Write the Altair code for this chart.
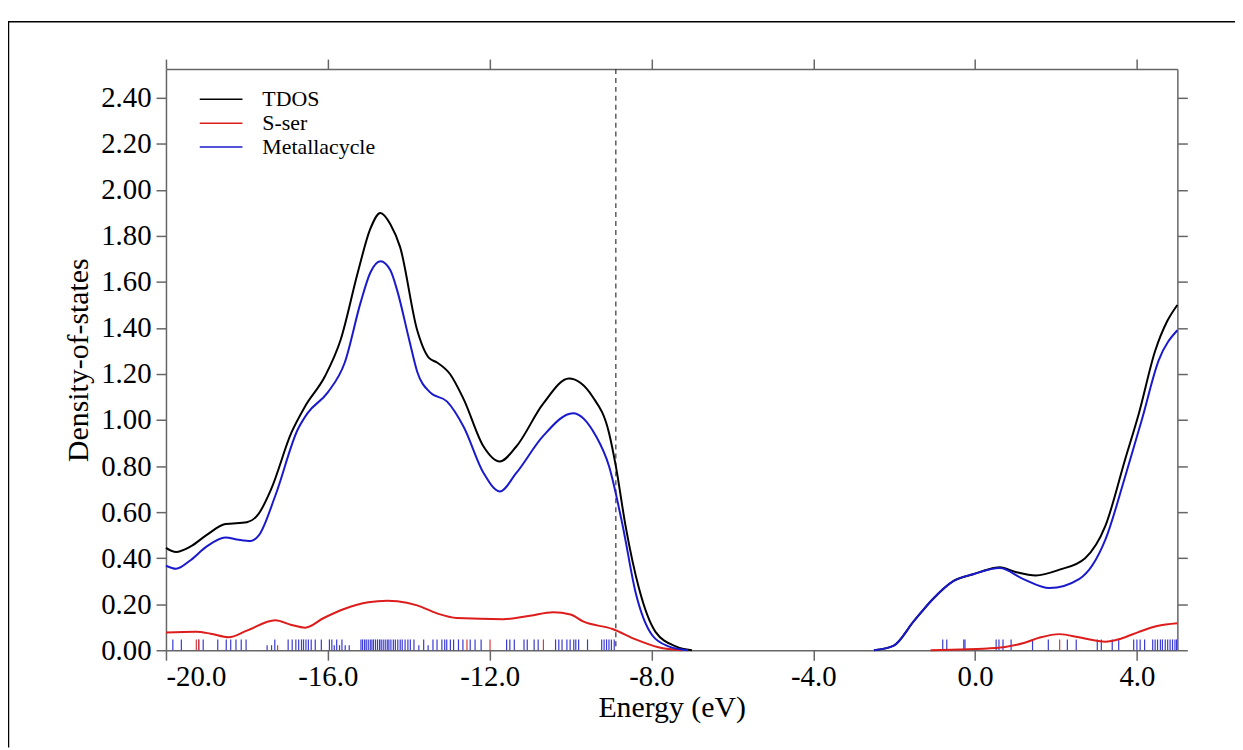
import altair as alt
import pandas as pd

# ---------------- data ----------------
series_names = ["TDOS", "S-ser", "Metallacycle"]
series_colors = ["#000000", "#dd1c1c", "#1a1acc"]

tdos_lo_x = [-20.0, -19.75, -19.4, -19.0, -18.53, -18.0, -17.72, -17.4, -16.9, -16.56, -16.07, -15.68,
             -15.26, -14.95, -14.70, -14.45, -14.21, -13.79, -13.5, -13.3, -12.98, -12.64, -12.15, -11.75,
             -11.34, -10.68, -10.04, -9.45, -9.05, -8.88, -8.64, -8.31, -7.9, -7.4, -7.0]
tdos_lo_y = [0.445, 0.427, 0.45, 0.50, 0.548, 0.556, 0.59, 0.70, 0.945, 1.06, 1.19, 1.35,
             1.64, 1.83, 1.90, 1.85, 1.75, 1.39, 1.27, 1.25, 1.20, 1.09, 0.885, 0.82,
             0.885, 1.07, 1.18, 1.10, 0.945, 0.80, 0.54, 0.27, 0.08, 0.017, 0.0]
tdos_hi_x = [-2.5, -2.01, -1.52, -1.03, -0.54, -0.05, 0.3, 0.61, 1.0, 1.5, 2.09, 2.72, 3.22, 3.71,
             4.05, 4.45, 4.75, 5.0]
tdos_hi_y = [0.0, 0.02, 0.125, 0.225, 0.30, 0.33, 0.35, 0.36, 0.34, 0.325, 0.35, 0.40, 0.54, 0.83,
             1.03, 1.30, 1.43, 1.50]

sser_lo_x = [-20.0, -19.26, -18.9, -18.45, -18.0, -17.3, -16.9, -16.56, -16.1, -15.58, -15.0, -14.53,
             -14.28, -13.79, -13.3, -12.81, -11.66, -11.0, -10.43, -10.0, -9.69, -8.96, -8.39, -7.83, -7.24]
sser_lo_y = [0.077, 0.08, 0.072, 0.056, 0.085, 0.13, 0.11, 0.098, 0.14, 0.18, 0.208, 0.215,
             0.213, 0.195, 0.16, 0.14, 0.135, 0.15, 0.165, 0.155, 0.125, 0.092, 0.047, 0.013, 0.0]
sser_hi_x = [-1.1, 0.52, 1.18, 1.6, 2.09, 2.6, 3.22, 3.6, 4.05, 4.5, 5.0]
sser_hi_y = [0.0, 0.01, 0.03, 0.055, 0.07, 0.055, 0.037, 0.05, 0.08, 0.105, 0.117]

metal_lo_x = [-20.0, -19.75, -19.4, -19.0, -18.53, -18.2, -17.9, -17.7, -17.3, -16.74, -16.5, -16.0,
              -15.58, -15.19, -14.95, -14.70, -14.45, -14.28, -13.99, -13.79, -13.47, -13.05, -12.64,
              -12.15, -11.75, -11.34, -10.68, -9.94, -9.37, -9.05, -8.71, -8.39, -7.98, -7.58, -7.1]
metal_lo_y = [0.367, 0.354, 0.39, 0.45, 0.49, 0.48, 0.475, 0.50, 0.67, 0.96, 1.03, 1.12,
              1.25, 1.51, 1.64, 1.69, 1.65, 1.56, 1.35, 1.21, 1.12, 1.08, 0.97,
              0.77, 0.69, 0.77, 0.93, 1.03, 0.93, 0.80, 0.54, 0.25, 0.065, 0.017, 0.0]
metal_hi_x = [-2.5, -2.01, -1.52, -1.03, -0.54, -0.05, 0.61, 1.18, 1.84, 2.58, 3.22, 3.71, 4.12, 4.54, 5.0]
metal_hi_y = [0.0, 0.02, 0.125, 0.225, 0.30, 0.33, 0.357, 0.31, 0.27, 0.31, 0.48, 0.755, 1.00, 1.26, 1.39]

# eigenvalue sticks
blue_sticks = [-19.83, -19.62, -19.19, -19.08, -18.72, -18.51, -18.40, -18.27, -18.14, -18.02, -17.31,
               -16.98, -16.88, -16.79, -16.72, -16.65, -16.60, -16.54, -16.48, -16.41, -16.31, -16.16,
               -15.96, -15.90, -15.78, -15.65,
               -15.18, -15.14, -15.09, -15.05, -15.00, -14.95, -14.91, -14.87, -14.82, -14.77, -14.72,
               -14.68, -14.63, -14.58, -14.53, -14.49, -14.44, -14.38, -14.33, -14.27, -14.21, -14.16,
               -14.09, -14.02, -13.96,
               -13.87, -13.63, -13.40, -13.30, -13.18, -13.11, -13.06, -12.97, -12.89, -12.77, -12.66,
               -12.48, -12.36, -12.21, -11.58, -11.50, -11.39, -11.15, -11.07, -10.90, -10.80, -10.37,
               -10.29, -10.21, -10.09, -10.01, -9.92, -9.87, -9.80, -9.58, -9.23, -9.17, -9.11, -9.05,
               -8.99, -8.92,
               -0.80, -0.70, -0.28, -0.25, 0.52, 0.59, 0.69, 0.89, 1.42, 1.81, 2.28, 2.50, 3.02, 3.12,
               3.39, 3.55, 3.92, 4.00, 4.08, 4.19, 4.39, 4.45, 4.51, 4.58, 4.63, 4.70, 4.76, 4.82, 4.88,
               4.94, 4.98]
blue_short_sticks = [-17.50, -17.39, -15.84, -15.71, -15.57, -15.47, -13.75, -13.52]
red_sticks = [-19.25, -19.19, -12.56, -11.99, -10.67, 2.09]
red_short_sticks = [-17.24]
stick_height = 0.047
short_height = 0.022

homo_level = [-8.88]

x_ticks = [-20, -16, -12, -8, -4, 0, 4]
y_ticks = [0.0, 0.2, 0.4, 0.6, 0.8, 1.0, 1.2, 1.4, 1.6, 1.8, 2.0, 2.2, 2.4]

# ---------------- tables ----------------
def seg(name, part, xs, ys):
    return pd.DataFrame({"energy": xs, "dos": ys, "series": name, "segment": part})

tdos_df = pd.concat([seg("TDOS", "lo", tdos_lo_x, tdos_lo_y), seg("TDOS", "hi", tdos_hi_x, tdos_hi_y)])
sser_df = pd.concat([seg("S-ser", "lo", sser_lo_x, sser_lo_y), seg("S-ser", "hi", sser_hi_x, sser_hi_y)])
metal_df = pd.concat([seg("Metallacycle", "lo", metal_lo_x, metal_lo_y),
                      seg("Metallacycle", "hi", metal_hi_x, metal_hi_y)])

blue_df = pd.concat([pd.DataFrame({"energy": blue_sticks, "top": stick_height}),
                     pd.DataFrame({"energy": blue_short_sticks, "top": short_height})])
blue_df["base"] = 0.0
red_df = pd.concat([pd.DataFrame({"energy": red_sticks, "top": stick_height}),
                    pd.DataFrame({"energy": red_short_sticks, "top": short_height})])
red_df["base"] = 0.0
homo_df = pd.DataFrame({"energy": homo_level})

FONT = "Liberation Serif"
AXIS_GRAY = "#666666"

x_scale = alt.Scale(domain=[-20, 5], nice=False, zero=False)
y_scale = alt.Scale(domain=[0, 2.525], nice=False, zero=False)
color_scale = alt.Scale(domain=series_names, range=series_colors)

x_main = alt.X("energy:Q", scale=x_scale,
               axis=alt.Axis(title="Energy (eV)", values=x_ticks, format=".1f", orient="bottom",
                             labelExpr="replace(datum.label, '\u2212', '-')",
                             tickSize=10, labelPadding=3, titlePadding=1, labelFontSize=29))
y_main = alt.Y("dos:Q", scale=y_scale,
               axis=alt.Axis(title="Density-of-states", values=y_ticks, format=".2f", orient="left",
                             tickSize=10, labelPadding=5, titlePadding=7, labelFontSize=29))

legend = alt.Legend(title=None, orient="none", legendX=33, legendY=19, symbolType="stroke",
                    symbolSize=1849, symbolStrokeWidth=1.5, clipHeight=23, rowPadding=1,
                    labelOffset=19, labelFont=FONT, labelFontSize=22, labelColor="#000000",
                    padding=0, symbolOffset=0)

tdos = alt.Chart(tdos_df).mark_line(strokeWidth=2, interpolate="monotone").encode(
    x=x_main, y=y_main,
    color=alt.Color("series:N", scale=color_scale, legend=legend),
    detail="segment:N")

sser = alt.Chart(sser_df).mark_line(strokeWidth=2, interpolate="monotone").encode(
    x=alt.X("energy:Q", scale=x_scale, axis=None),
    y=alt.Y("dos:Q", scale=y_scale, axis=None),
    color=alt.Color("series:N", scale=color_scale, legend=legend),
    detail="segment:N")

metal = alt.Chart(metal_df).mark_line(strokeWidth=2, interpolate="monotone").encode(
    x=alt.X("energy:Q", scale=x_scale, axis=None),
    y=alt.Y("dos:Q", scale=y_scale, axis=None),
    color=alt.Color("series:N", scale=color_scale, legend=legend),
    detail="segment:N")

blue_rug = alt.Chart(blue_df).mark_rule(color="#3a3ad6", strokeWidth=1.2).encode(
    x=alt.X("energy:Q", scale=x_scale, axis=None),
    y=alt.Y("base:Q", scale=y_scale, axis=None),
    y2="top:Q")

red_rug = alt.Chart(red_df).mark_rule(color="#d83a3a", strokeWidth=1.2).encode(
    x=alt.X("energy:Q", scale=x_scale, axis=None),
    y=alt.Y("base:Q", scale=y_scale, axis=None),
    y2="top:Q")

homo = alt.Chart(homo_df).mark_rule(color="#333333", strokeWidth=1.2, strokeDash=[5, 4]).encode(
    x=alt.X("energy:Q", scale=x_scale, axis=None))

# top and right frame axes (ticks only)
frame = alt.Chart(tdos_df).mark_point(opacity=0).encode(
    x=alt.X("energy:Q", scale=x_scale,
            axis=alt.Axis(orient="top", values=x_ticks, labels=False, title=None, tickSize=10)),
    y=alt.Y("dos:Q", scale=y_scale,
            axis=alt.Axis(orient="right", values=y_ticks, labels=False, title=None, tickSize=10)))

# outer frame of the figure
border_top = alt.Chart(homo_df).mark_rule(color="#000000", strokeWidth=1.5).encode(
    x=alt.value(-159), x2=alt.value(1076), y=alt.value(-47.5))
border_left = alt.Chart(homo_df).mark_rule(color="#000000", strokeWidth=1.5).encode(
    x=alt.value(-158.5), y=alt.value(-47.5), y2=alt.value(683))

chart = alt.layer(
    homo, blue_rug, red_rug, tdos, sser, metal, frame, border_top, border_left
).properties(
    width=1018, height=585,
    padding={"left": 159, "top": 59, "right": 58, "bottom": 98},
    autosize=alt.AutoSizeParams(type="none"),
    background="white",
).configure_view(stroke=None).configure_axis(
    grid=False, domainColor=AXIS_GRAY, domainWidth=1.5, tickColor=AXIS_GRAY, tickWidth=1.5,
    labelFont=FONT, labelFontSize=28, labelColor="#000000", titleFont=FONT, titleFontSize=30,
    titleFontWeight="normal", titleColor="#000000",
)

chart.save("out.html", embed_options={"renderer": "svg", "actions": False})
